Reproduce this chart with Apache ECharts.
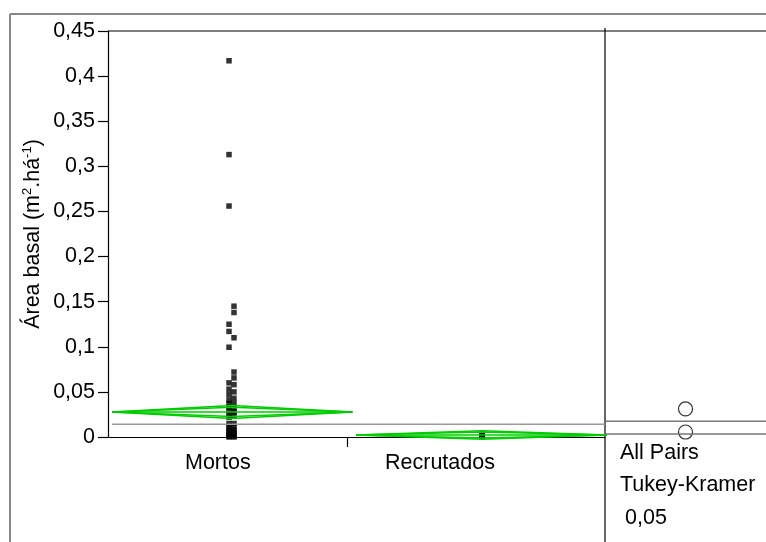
<!DOCTYPE html>
<html>
<head>
<meta charset="utf-8">
<script src="https://cdn.jsdelivr.net/npm/echarts@6/dist/echarts.min.js"></script>
<style>
  html, body { margin: 0; padding: 0; background: #fff; }
  #chart { width: 766px; height: 542px; }
</style>
</head>
<body>
<div id="chart"></div>
<script>
// Groups and their observations (basal area, m²/ha)
const categories = ['Mortos', 'Recrutados'];
const mortosColA = [0.417, 0.313, 0.256, 0.125, 0.117, 0.0995, 0.060, 0.053, 0.047,
  0.041, 0.037, 0.033, 0.029, 0.025, 0.022, 0.015, 0.012, 0.009, 0.006, 0.004, 0.002, 0.001, 0];
const mortosColB = [0.145, 0.138, 0.110, 0.072, 0.0655, 0.058, 0.050, 0.043, 0.037, 0.032,
  0.028, 0.024, 0.015, 0.011, 0.008, 0.005, 0.003, 0.001, 0];
const recrutadosValues = [0.0035, 0.0025, 0.0015, 0.001, 0.0005, 0];

// Group summary: means, 95% CI half-widths, grand mean
const groupMeans = [0.0278, 0.0022];
const groupCI = [0.0072, 0.0048];
const grandMean = 0.014;
const alphaLabel = '0,05';

// Layout along the proportional x axis (0..100)
const groupCenter = [25, 75.3];
const groupHalfWidth = [24.2, 25.4];
const jitterA = -0.65, jitterB = 0.35;
const boundaryTick = 48.2;
const labelPos = [22.1, 66.8];

const FONT = 'Liberation Sans, Arial, sans-serif';
const FS = 21.5;
const GREEN = '#00cc00';

function diamondOuter(i) {
  const c = groupCenter[i], h = groupHalfWidth[i], m = groupMeans[i], ci = groupCI[i];
  return [[c - h, m], [c, m + ci], [c + h, m], [c, m - ci], [c - h, m]];
}
function diamondInner(i) {
  const c = groupCenter[i], h = groupHalfWidth[i], m = groupMeans[i], d = groupCI[i] * Math.SQRT1_2;
  return [[c - h, m], [c, m + d], [c + h, m], [c, m - d], [c - h, m]];
}
function meanLine(i) {
  const c = groupCenter[i], h = groupHalfWidth[i], m = groupMeans[i];
  return [[c - h, m], [c + h, m]];
}
function lineSeries(data, color, width, xi) {
  return {
    type: 'line', data: data, xAxisIndex: xi || 0, yAxisIndex: xi || 0,
    symbol: 'none', silent: true, clip: false, animation: false,
    lineStyle: { color: color, width: width }
  };
}

const series = [];
// grand mean reference line
series.push(lineSeries([[groupCenter[0] - groupHalfWidth[0], grandMean], [100, grandMean]], '#9a9a9a', 1.5));
// means diamonds
for (let i = 0; i < categories.length; i++) {
  series.push(lineSeries(diamondOuter(i), GREEN, 1.5));
  series.push(lineSeries(diamondInner(i), GREEN, 1.5));
  series.push(lineSeries(meanLine(i), GREEN, 1.5));
}
// observations
const pts = []
  .concat(mortosColA.map(v => [groupCenter[0] + jitterA, v]))
  .concat(mortosColB.map(v => [groupCenter[0] + jitterB, v]))
  .concat(recrutadosValues.map(v => [groupCenter[1], v]));
series.push({
  type: 'scatter', data: pts, symbol: 'rect', symbolSize: 5.5, clip: false, animation: false,
  itemStyle: { color: '#000' }, silent: true
});
// comparison circles panel
series.push(lineSeries([[0, grandMean], [1, grandMean]], '#777', 1.5, 1));
series.push(lineSeries([[0, 0], [1, 0]], '#777', 1.5, 1));
series.push({
  type: 'scatter', xAxisIndex: 1, yAxisIndex: 1, animation: false, silent: true, clip: false,
  data: groupMeans.map(m => [0.5, m]), symbol: 'circle', symbolSize: 14,
  itemStyle: { color: 'rgba(0,0,0,0)', borderColor: '#000', borderWidth: 1.2 }
});

const fmt = v => String(+v.toFixed(2)).replace('.', ',');

const option = {
  backgroundColor: '#fff',
  textStyle: { fontFamily: FONT },
  grid: [
    { left: 108, right: 161, top: 31, bottom: 105 },
    { left: 605, right: 0, top: 28, bottom: 108 }
  ],
  xAxis: [
    {
      type: 'value', min: 0, max: 100, gridIndex: 0,
      axisLine: { show: true, lineStyle: { color: '#000', width: 1.2 } },
      axisTick: { show: true, customValues: [boundaryTick], length: 10, lineStyle: { color: '#000', width: 1.2 } },
      axisLabel: {
        customValues: labelPos, margin: 15, fontSize: FS, color: '#000', fontFamily: FONT,
        formatter: v => categories[labelPos.indexOf(v)] || ''
      },
      splitLine: { show: false }
    },
    {
      type: 'value', min: 0, max: 1, gridIndex: 1, show: false
    }
  ],
  yAxis: [
    {
      type: 'value', min: 0, max: 0.45, interval: 0.05, gridIndex: 0,
      axisLine: { show: true, lineStyle: { color: '#000', width: 1.2 } },
      axisTick: { show: true, length: 10, lineStyle: { color: '#000', width: 1.2 } },
      axisLabel: { formatter: fmt, fontSize: FS, color: '#000', margin: 13, fontFamily: FONT },
      splitLine: { show: false },
      name: 'Área basal (m{sup|2}.há{sup|-1})',
      nameLocation: 'middle', nameGap: 63, nameRotate: 90, nameMoveOverlap: false,
      nameTextStyle: {
        fontSize: FS, color: '#000', fontFamily: FONT, lineHeight: 24,
        rich: { sup: { fontSize: 13, verticalAlign: 'top', lineHeight: 24, color: '#000', fontFamily: FONT } }
      }
    },
    {
      type: 'value', min: 0, max: 0.45, gridIndex: 1, show: false
    }
  ],
  series: series,
  graphic: [
    // outer frame
    { type: 'line', shape: { x1: 10, y1: 14, x2: 766, y2: 14 }, style: { stroke: '#888', lineWidth: 2 }, silent: true },
    { type: 'line', shape: { x1: 10, y1: 14, x2: 10, y2: 542 }, style: { stroke: '#888', lineWidth: 2 }, silent: true },
    // plot top border and panel divider
    { type: 'line', shape: { x1: 108, y1: 31, x2: 766, y2: 31 }, style: { stroke: '#000', lineWidth: 1.2 }, silent: true },
    { type: 'line', shape: { x1: 605, y1: 28, x2: 605, y2: 542 }, style: { stroke: '#000', lineWidth: 1.2 }, silent: true },
    // comparison method text
    { type: 'text', left: 620, top: 442, style: { text: 'All Pairs', font: FS + 'px ' + FONT, fill: '#000' } },
    { type: 'text', left: 620, top: 474, style: { text: 'Tukey-Kramer', font: FS + 'px ' + FONT, fill: '#000' } },
    { type: 'text', left: 625, top: 507, style: { text: alphaLabel, font: FS + 'px ' + FONT, fill: '#000' } }
  ]
};

const chart = echarts.init(document.getElementById('chart'), null, { renderer: 'canvas' });
chart.setOption(option);
</script>
</body>
</html>
